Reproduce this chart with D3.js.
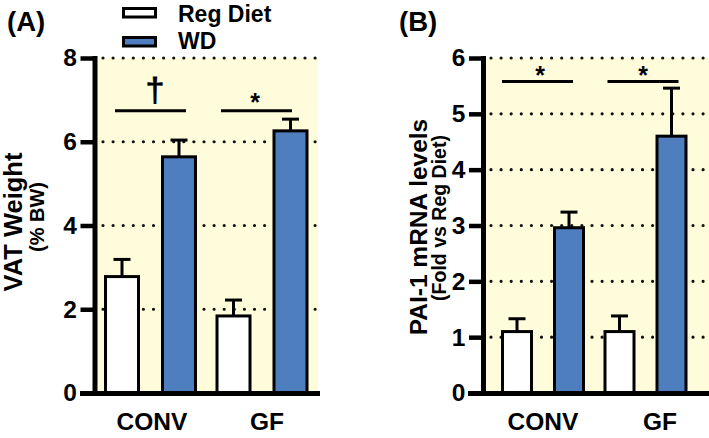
<!DOCTYPE html>
<html>
<head>
<meta charset="utf-8">
<script src="https://cdn.jsdelivr.net/npm/d3@7"></script>
<style>
  html, body { margin: 0; padding: 0; background: #ffffff; }
  svg { display: block; font-family: "Liberation Sans", Arial, sans-serif; }
</style>
</head>
<body>
<svg id="chart" width="709" height="438"></svg>
<script>
// ---------------- data ----------------
const groups = ["CONV", "GF"];
const series = ["Reg Diet", "WD"];

// Panel A: VAT weight (% BW)
const vatReg = [2.78, 1.84];
const vatRegErr = [0.41, 0.38];
const vatWD = [5.64, 6.26];
const vatWDErr = [0.40, 0.28];
const vatTicks = [0, 2, 4, 6, 8];
const vatSigY = [6.74, 6.74];
const vatSigMark = ["\u2020", "*"];

// Panel B: PAI-1 mRNA levels (fold vs Reg Diet)
const paiReg = [1.10, 1.10];
const paiRegErr = [0.23, 0.28];
const paiWD = [2.96, 4.60];
const paiWDErr = [0.28, 0.86];
const paiTicks = [0, 1, 2, 3, 4, 5, 6];
const paiSigY = [5.58, 5.58];
const paiSigMark = ["*", "*"];

// ---------------- styles ----------------
const BLUE = "#4e7ebd";
const BG = "#fefcda";
const seriesFill = { "Reg Diet": "#ffffff", "WD": BLUE };

const svg = d3.select("#chart");

function rowsFor(reg, regErr, wd, wdErr) {
  const rows = [];
  groups.forEach((g, i) => {
    rows.push({ group: g, series: "Reg Diet", value: reg[i], err: regErr[i] });
    rows.push({ group: g, series: "WD", value: wd[i], err: wdErr[i] });
  });
  return rows;
}

function drawPanel(cfg) {
  const g = svg.append("g");
  const y = d3.scaleLinear().domain([0, cfg.ticks[cfg.ticks.length - 1]]).range([393, 58]);
  const xg = d3.scalePoint().domain(groups).range(cfg.groupRange);
  const xs = d3.scalePoint().domain(series).range([-cfg.inner, cfg.inner]);

  // background
  g.append("rect")
    .attr("x", cfg.axisX + 2).attr("y", y(cfg.ticks[cfg.ticks.length - 1]))
    .attr("width", cfg.bgRight - cfg.axisX - 2)
    .attr("height", y(0) - y(cfg.ticks[cfg.ticks.length - 1]))
    .attr("fill", BG);

  // dotted gridlines
  g.selectAll(".grid").data(cfg.ticks.filter(t => t > 0)).enter().append("line")
    .attr("x1", cfg.gridStart).attr("x2", cfg.bgRight)
    .attr("y1", d => y(d)).attr("y2", d => y(d))
    .attr("stroke", "#111").attr("stroke-width", 3.2)
    .attr("stroke-linecap", "round").attr("stroke-dasharray", "0,10.1");

  const rows = rowsFor(cfg.reg, cfg.regErr, cfg.wd, cfg.wdErr);
  const cx = d => xg(d.group) + xs(d.series);

  // error bars (upper only)
  g.selectAll(".eb").data(rows).enter().append("line")
    .attr("x1", cx).attr("x2", cx)
    .attr("y1", d => y(d.value)).attr("y2", d => y(d.value + d.err))
    .attr("stroke", "#000").attr("stroke-width", 3);
  g.selectAll(".cap").data(rows).enter().append("line")
    .attr("x1", d => cx(d) - 8.5).attr("x2", d => cx(d) + 8.5)
    .attr("y1", d => y(d.value + d.err)).attr("y2", d => y(d.value + d.err))
    .attr("stroke", "#000").attr("stroke-width", 3);

  // bars
  g.selectAll(".bar").data(rows).enter().append("rect")
    .attr("x", d => cx(d) - cfg.barW / 2)
    .attr("width", cfg.barW)
    .attr("y", d => y(d.value))
    .attr("height", d => y(0) - y(d.value))
    .attr("fill", d => seriesFill[d.series])
    .attr("stroke", "#000").attr("stroke-width", 3);

  // y axis
  const yAxis = d3.axisLeft(y).tickValues(cfg.ticks).tickFormat(d3.format("d"))
    .tickSize(14).tickSizeOuter(0).tickPadding(3.5);
  const ya = g.append("g").attr("transform", `translate(${cfg.axisX},0)`).call(yAxis);
  ya.select(".domain").attr("stroke", "#000").attr("stroke-width", 5).attr("stroke-linecap", "square");
  ya.selectAll(".tick line").attr("stroke", "#000").attr("stroke-width", 4.5);
  ya.selectAll(".tick text")
    .attr("font-size", 24.5).attr("font-weight", "bold").attr("fill", "#000")
    .attr("font-family", "'Liberation Sans', Arial, sans-serif");

  // x axis
  g.append("line")
    .attr("x1", cfg.xAxisLeft).attr("x2", cfg.xAxisRight)
    .attr("y1", y(0) + 0.5).attr("y2", y(0) + 0.5)
    .attr("stroke", "#000").attr("stroke-width", 5);
  g.selectAll(".xl").data(groups).enter().append("text")
    .attr("x", (d, i) => xg(d) + cfg.labelDx[i])
    .attr("y", 430)
    .attr("text-anchor", "middle")
    .attr("font-size", 24.5).attr("font-weight", "bold")
    .text(d => d);

  // significance brackets
  groups.forEach((grp, i) => {
    const c = xg(grp) + cfg.bracketDx[i];
    g.append("line")
      .attr("x1", c - 35.5).attr("x2", c + 35.5)
      .attr("y1", y(cfg.sigY[i])).attr("y2", y(cfg.sigY[i]))
      .attr("stroke", "#000").attr("stroke-width", 3);
    const isDagger = cfg.sigMark[i] === "\u2020";
    g.append("text")
      .attr("x", xg(grp) + cfg.symDx[i])
      .attr("y", y(cfg.sigY[i]) + (isDagger ? -10 : cfg.starDy))
      .attr("text-anchor", "middle")
      .attr("font-size", isDagger ? 34 : 25)
      .attr("font-weight", isDagger ? "normal" : "bold")
      .attr("stroke", isDagger ? "#000" : "none")
      .attr("stroke-width", isDagger ? 0.8 : 0)
      .text(cfg.sigMark[i]);
  });

  // axis titles
  g.append("text")
    .attr("transform", `translate(${cfg.titleX},${cfg.titleCY}) rotate(-90)`)
    .attr("text-anchor", "middle")
    .attr("font-size", cfg.titleSize).attr("font-weight", "bold")
    .text(cfg.title);
  g.append("text")
    .attr("transform", `translate(${cfg.subX},${cfg.subCY}) rotate(-90)`)
    .attr("text-anchor", "middle")
    .attr("font-size", cfg.subSize).attr("font-weight", "bold")
    .text(cfg.sub);

  // panel letter
  g.append("text")
    .attr("x", cfg.letterX).attr("y", 31)
    .attr("font-size", 27.5).attr("font-weight", "bold")
    .text(cfg.letter);
}

drawPanel({
  ticks: vatTicks, reg: vatReg, regErr: vatRegErr, wd: vatWD, wdErr: vatWDErr,
  sigY: vatSigY, sigMark: vatSigMark,
  axisX: 94.5, bgRight: 318, gridStart: 103, xAxisLeft: 80, xAxisRight: 320,
  groupRange: [150.5, 262], inner: 28.5, barW: 33,
  labelDx: [1.5, 5], bracketDx: [0, -5.5], symDx: [4.5, -7], starDy: 0,
  title: "VAT Weight", titleX: 22, titleCY: 222, titleSize: 25.5,
  sub: "(% BW)", subX: 44, subCY: 217, subSize: 20,
  letter: "(A)", letterX: 7
});

drawPanel({
  ticks: paiTicks, reg: paiReg, regErr: paiRegErr, wd: paiWD, wdErr: paiWDErr,
  sigY: paiSigY, sigMark: paiSigMark,
  axisX: 483, bgRight: 709, gridStart: 491, xAxisLeft: 468, xAxisRight: 709,
  groupRange: [543, 645.5], inner: 26, barW: 29,
  labelDx: [0, 14.5], bracketDx: [-5.5, -2.5], symDx: [-3, -2.5], starDy: 3,
  title: "PAI-1 mRNA levels", titleX: 427, titleCY: 227, titleSize: 24.5,
  sub: "(Fold vs Reg Diet)", subX: 446, subCY: 218, subSize: 19.5,
  letter: "(B)", letterX: 399
});

// legend
const legend = svg.append("g");
series.forEach((s, i) => {
  legend.append("rect")
    .attr("x", 123.5).attr("y", 8.5 + i * 29)
    .attr("width", 32).attr("height", 8.5)
    .attr("fill", seriesFill[s]).attr("stroke", "#000").attr("stroke-width", 3);
  legend.append("text")
    .attr("x", 178).attr("y", 21.5 + i * 27.5)
    .attr("font-size", 23).attr("font-weight", "bold")
    .text(s);
});
</script>
</body>
</html>
